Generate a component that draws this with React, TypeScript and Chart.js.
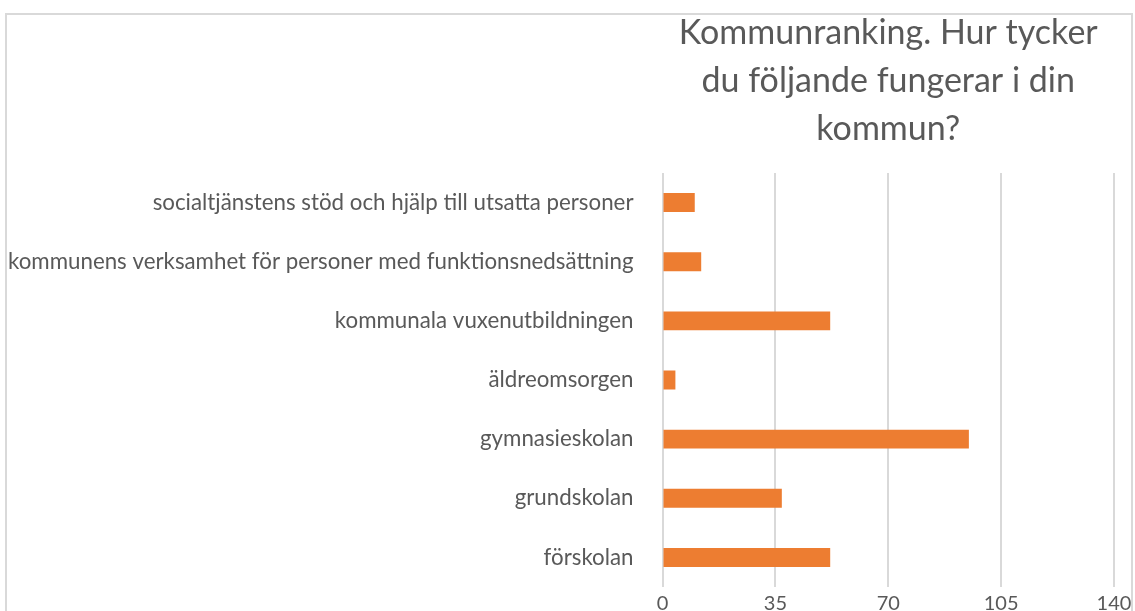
import React, { useEffect, useRef } from "react";
import { Chart, registerables } from "chart.js";

Chart.register(...registerables);

const categories: string[] = [
  "socialtjänstens stöd och hjälp till utsatta personer",
  "kommunens verksamhet för personer med funktionsnedsättning",
  "kommunala vuxenutbildningen",
  "äldreomsorgen",
  "gymnasieskolan",
  "grundskolan",
  "förskolan",
];

const responses: number[] = [10, 12, 52, 4, 95, 37, 52];

const axisTicks: number[] = [0, 35, 70, 105, 140];

const titleLines: string[] = [
  "Kommunranking. Hur tycker",
  "du följande fungerar i din",
  "kommun?",
];

const FONT = "Lato, 'Open Sans', sans-serif";
const TEXT = "#595959";
const GRID = "#d9d9d9";
const BAR = "#ED7D31";

// Title centred over the plot area rather than the whole canvas.
const plotTitle = {
  id: "plotTitle",
  afterDraw(chart: any) {
    const { ctx, chartArea } = chart;
    const cx = (chartArea.left + chartArea.right) / 2;
    ctx.save();
    ctx.fillStyle = TEXT;
    ctx.font = `34px ${FONT}`;
    ctx.textAlign = "center";
    ctx.textBaseline = "alphabetic";
    titleLines.forEach((line, i) => {
      ctx.fillText(line, cx, 29 + i * 48);
    });
    ctx.restore();
  },
};

export default function App() {
  const canvasRef = useRef<HTMLCanvasElement | null>(null);

  useEffect(() => {
    if (!canvasRef.current) return;
    const chart = new Chart(canvasRef.current, {
      type: "bar",
      data: {
        labels: categories,
        datasets: [
          {
            label: "Antal",
            data: responses,
            backgroundColor: BAR,
            borderWidth: 0,
            barPercentage: 0.32,
            categoryPercentage: 1,
          },
        ],
      },
      options: {
        indexAxis: "y",
        animation: false,
        responsive: false,
        maintainAspectRatio: false,
        layout: { padding: { top: 158, right: 17, bottom: 0, left: 0 } },
        plugins: {
          legend: { display: false },
          title: { display: false },
          tooltip: { enabled: false },
        },
        scales: {
          x: {
            min: 0,
            max: 140,
            afterBuildTicks(scale: any) {
              scale.ticks = axisTicks.map((v) => ({ value: v }));
            },
            afterFit(scale: any) {
              scale.height = 68;
              scale.paddingLeft = 0;
              scale.paddingRight = 0;
            },
            grid: {
              color: GRID,
              lineWidth: 2,
              drawTicks: false,
            },
            border: { display: false },
            ticks: {
              color: TEXT,
              padding: 5,
              font: { family: FONT, size: 20 },
            },
          },
          y: {
            afterFit(scale: any) {
              scale.width = 655.5;
              scale.paddingTop = 0;
              scale.paddingBottom = 0;
            },
            grid: { display: false, drawTicks: false },
            border: { display: false },
            ticks: {
              color: TEXT,
              padding: 29,
              autoSkip: false,
              font: { family: FONT, size: 22.3 },
            },
          },
        },
      },
      plugins: [plotTitle],
    });
    return () => chart.destroy();
  }, []);

  return (
    <div
      style={{
        position: "absolute",
        left: 5,
        top: 13,
        width: 1128,
        height: 644,
        border: "2px solid #d9d9d9",
        boxSizing: "border-box",
        background: "#ffffff",
      }}
    >
      <canvas
        ref={canvasRef}
        width={1124}
        height={640}
        style={{ display: "block", width: 1124, height: 640 }}
      />
    </div>
  );
}
